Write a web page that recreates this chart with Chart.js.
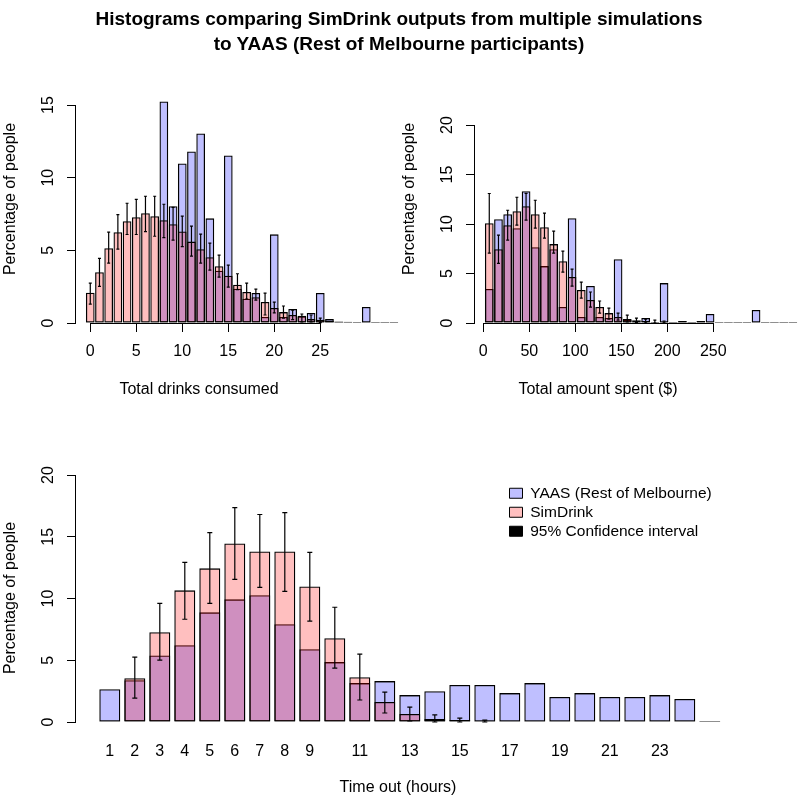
<!DOCTYPE html>
<html>
<head>
<meta charset="utf-8">
<script src="https://cdn.jsdelivr.net/npm/chart.js@4.4.1/dist/chart.umd.min.js"></script>
<style>
body { margin: 0; background: #fff; }
#wrap { position: relative; width: 798px; height: 798px; overflow: hidden; }
canvas { position: absolute; }
#title {
  position: absolute; left: 0; top: 6px; width: 798px; text-align: center;
  font: bold 19px "Liberation Sans", Arial, sans-serif; line-height: 25px; color: #000;
}
</style>
</head>
<body>
<div id="wrap">
  <canvas id="drinks" style="left:0;top:0" width="399" height="400"></canvas>
  <canvas id="spent" style="left:399px;top:0" width="399" height="400"></canvas>
  <canvas id="hours" style="left:0;top:400px" width="798" height="398"></canvas>
  <div id="title">Histograms comparing SimDrink outputs from multiple simulations<br>to YAAS (Rest of Melbourne participants)</div>
</div>
<script>
Chart.defaults.font.family = '"Liberation Sans", Arial, sans-serif';
Chart.defaults.font.size = 16;
Chart.defaults.color = '#000';

var blueFill = 'rgba(0,0,255,0.25)';
var redFill = 'rgba(255,0,0,0.25)';

// total drinks consumed (one bar per drink count)
var drinkBins = [0,1,2,3,4,5,6,7,8,9,10,11,12,13,14,15,16,17,18,19,20,21,22,23,24,25,26,27,28,29,30,31,32,33];
var drinkTicks = [0,5,10,15,20,25];
var drinksYaas = [0,0,0,0,0,0,0,0,15.24,8.03,10.98,11.8,13.04,7.2,3.6,11.53,2.36,1.67,2.06,0.41,6.1,0.41,0.96,0.45,0.69,2.06,0.27,0,0,0,1.1,0,0,0];
var drinksSim = [2.08,3.5,5.15,6.25,7.0,7.28,7.55,7.35,7.07,6.8,6.3,5.6,5.08,4.53,3.9,3.25,2.63,2.13,1.78,1.44,1.03,0.75,0.55,0.5,0.27,0.23,0.16,0.1,0.08,0.06,0,0,0,0];
var drinksLow = [1.3,2.52,4.12,5.08,6.09,6.09,6.29,5.97,5.88,5.7,5.26,4.6,4.12,3.64,3.16,2.47,2.29,1.65,1.58,0.55,0.69,0.34,0.23,0.07,0.07,0.02,null,null,null,null,null,null,null,null];
var drinksHigh = [2.75,4.44,6.25,7.46,8.24,8.51,8.72,8.72,8.17,7.96,7.35,6.66,6.11,5.49,4.67,3.98,3.39,2.75,2.33,2.06,1.44,1.17,0.89,0.62,0.55,0.34,null,null,null,null,null,null,null,null];

// total amount spent ($10 bins)
var spentBins = [0,10,20,30,40,50,60,70,80,90,100,110,120,130,140,150,160,170,180,190,200,210,220,230,240,250,260,270,280,290,300,310,320,330];
var spentTicks = [0,50,100,150,200,250];
var spentYaas = [3.43,10.49,10.99,9.58,13.31,7.66,5.75,7.46,1.61,10.59,0.6,3.73,0.6,0.5,6.45,0.34,0,0.5,0.05,4.03,0,0.2,0,0.2,0.91,0,0,0,0,1.31,0,0,0,0];
var spentSim = [10.08,7.46,9.88,11.29,11.8,10.99,9.68,7.97,6.25,4.64,3.33,2.32,1.61,1.0,0.6,0.4,0.27,0.2,0.1,0.1,0.05,0,0,0,0,0,0,0,0,0,0,0,0,0];
var spentLow = [7.06,6.02,8.37,9.88,10.39,9.58,8.57,7.06,5.14,3.73,2.52,1.61,1.0,0.4,0.3,0.1,0.05,0.02,0,0.02,null,null,null,null,null,null,null,null,null,null,null,null,null,null];
var spentHigh = [13.08,8.87,11.39,12.7,13.1,12.4,11.09,9.28,7.26,5.45,4.13,3.13,2.22,1.51,1.0,0.8,0.5,0.4,0.3,0.2,null,null,null,null,null,null,null,null,null,null,null,null,null,null];

// time out (hours)
var hours = [1,2,3,4,5,6,7,8,9,10,11,12,13,14,15,16,17,18,19,20,21,22,23,24,25];
var hourTicks = [1,2,3,4,5,6,7,8,9,11,13,15,17,19,21,23];
var hoursYaas = [2.66,3.39,5.38,6.22,8.88,9.93,10.26,7.91,5.9,4.85,3.15,3.31,2.18,2.5,2.99,2.99,2.34,3.15,2.02,2.34,2.02,2.02,2.18,1.86,0];
var hoursSim = [0,3.55,7.27,10.66,12.44,14.45,13.81,13.81,10.98,6.78,3.63,1.62,0.65,0.24,0.16,0.08,0.05,0,0.05,0,0,0,0,0,0];
var hoursLow = [null,1.94,5.01,8.32,9.61,11.55,10.9,10.58,8.16,4.36,1.78,0.73,0.08,0,0,0,null,null,null,null,null,null,null,null,null];
var hoursHigh = [null,5.25,9.61,12.92,15.34,17.36,16.8,16.96,13.73,9.29,5.49,2.42,1.21,0.57,0.32,0.15,null,null,null,null,null,null,null,null,null];

function pts(xs, ys) {
  return xs.map(function(x, i) { return { x: x, y: ys[i] }; });
}

// R style extras: error bars, x axis line between end ticks, axis titles, legend placement
var rAxes = {
  id: 'rAxes',
  afterLayout: function(chart, args, opts) {
    if (opts.legendAt) {
      chart.legend.left = opts.legendAt[0];
      chart.legend.top = opts.legendAt[1];
    }
  },
  afterDatasetsDraw: function(chart, args, opts) {
    var ctx = chart.ctx, xs = chart.scales.x, ys = chart.scales.y;
    ctx.save();
    ctx.strokeStyle = '#000';
    ctx.lineWidth = 1.2;
    var e = opts.errors;
    e.low.forEach(function(lo, i) {
      var hi = e.high[i];
      if (lo === null || hi === null) return;
      var x = xs.getPixelForValue(e.at[i]);
      var y1 = ys.getPixelForValue(lo), y2 = ys.getPixelForValue(hi);
      ctx.beginPath();
      ctx.moveTo(x, y1); ctx.lineTo(x, y2);
      ctx.moveTo(x - e.cap, y1); ctx.lineTo(x + e.cap, y1);
      ctx.moveTo(x - e.cap, y2); ctx.lineTo(x + e.cap, y2);
      ctx.stroke();
    });
    if (opts.xLine) {
      var t = xs.ticks;
      var y0 = Math.round(chart.chartArea.bottom) + 0.5;
      ctx.lineWidth = 1;
      ctx.beginPath();
      ctx.moveTo(xs.getPixelForValue(t[0].value), y0);
      ctx.lineTo(xs.getPixelForValue(t[t.length - 1].value), y0);
      ctx.stroke();
    }
    ctx.restore();
  },
  afterDraw: function(chart, args, opts) {
    var ctx = chart.ctx;
    ctx.save();
    ctx.fillStyle = '#000';
    ctx.font = '16px "Liberation Sans", Arial, sans-serif';
    ctx.textAlign = 'center';
    ctx.textBaseline = 'middle';
    opts.titles.forEach(function(t) {
      ctx.save();
      ctx.translate(t.x, t.y);
      if (t.rot) ctx.rotate(-Math.PI / 2);
      ctx.fillText(t.text, 0, 0);
      ctx.restore();
    });
    ctx.restore();
  }
};

function histChart(id, o) {
  var bar = { grouped: false, borderColor: '#000', borderWidth: 1.3, borderSkipped: false,
              categoryPercentage: 1, barPercentage: o.barPct, minBarLength: 1, clip: false };
  return new Chart(document.getElementById(id), {
    type: 'bar',
    data: {
      datasets: [
        Object.assign({ label: 'SimDrink', data: pts(o.at, o.sim), backgroundColor: redFill, order: 0 }, bar),
        Object.assign({ label: 'YAAS (Rest of Melbourne)', data: pts(o.at, o.yaas), backgroundColor: blueFill, order: 1 }, bar)
      ]
    },
    options: {
      responsive: false,
      animation: false,
      layout: { padding: o.pad },
      scales: {
        x: {
          type: 'linear', min: o.xMin, max: o.xMax, offset: false,
          afterFit: function(s) { s.height = o.xHeight; },
          afterBuildTicks: function(s) { s.ticks = o.ticks.map(function(v) { return { value: v }; }); },
          ticks: { autoSkip: false, maxRotation: 0, padding: o.xPad, font: { size: 16 } },
          grid: o.xTicks ? { offset: false, drawOnChartArea: false, tickLength: 9, color: '#000' } : { display: false, drawTicks: false },
          border: { display: false }
        },
        y: {
          min: 0, max: o.yMax,
          afterFit: function(s) { s.width = 75; },
          ticks: { stepSize: 5, minRotation: 90, maxRotation: 90, crossAlign: 'center', padding: 10, font: { size: 16 } },
          grid: { drawOnChartArea: false, tickLength: 8, color: '#000' },
          border: { display: true, color: '#000', width: 1 }
        }
      },
      plugins: {
        tooltip: { enabled: false },
        legend: o.legend || { display: false },
        rAxes: { errors: o.errors, xLine: o.xTicks, titles: o.titles, legendAt: o.legendAt }
      }
    },
    plugins: [rAxes]
  });
}

histChart('drinks', {
  at: drinkBins, yaas: drinksYaas, sim: drinksSim, ticks: drinkTicks,
  pad: { left: 0, top: 105, right: 1, bottom: 0 },
  xMin: -1.66, xMax: 33.45, xHeight: 77, xPad: 10, xTicks: true, yMax: 15, barPct: 0.95,
  errors: { at: drinkBins, low: drinksLow, high: drinksHigh, cap: 1.5 },
  titles: [{ text: 'Total drinks consumed', x: 199, y: 390 }, { text: 'Percentage of people', x: 11, y: 199, rot: true }]
});

histChart('spent', {
  at: spentBins.map(function(b) { return b + 6.5; }), yaas: spentYaas, sim: spentSim, ticks: spentTicks,
  pad: { left: 0, top: 125, right: 0, bottom: 0 },
  xMin: -10.1, xMax: 342.1, xHeight: 77, xPad: 10, xTicks: true, yMax: 20, barPct: 0.95,
  errors: { at: spentBins.map(function(b) { return b + 6.5; }), low: spentLow, high: spentHigh, cap: 1.5 },
  titles: [{ text: 'Total amount spent ($)', x: 199, y: 390 }, { text: 'Percentage of people', x: 11, y: 199, rot: true }]
});

histChart('hours', {
  at: hours, yaas: hoursYaas, sim: hoursSim, ticks: hourTicks,
  pad: { left: 0, top: 75, right: 48, bottom: 0 },
  xMin: -0.392, xMax: 26.608, xHeight: 76, xPad: 20, xTicks: false, yMax: 20, barPct: 0.84,
  errors: { at: hours, low: hoursLow, high: hoursHigh, cap: 2.5 },
  titles: [{ text: 'Time out (hours)', x: 398, y: 388 }, { text: 'Percentage of people', x: 11, y: 198, rot: true }],
  legendAt: [506, 82],
  legend: {
    display: true, position: 'chartArea', align: 'start',
    labels: {
      boxWidth: 13, boxHeight: 10, padding: 3.5, font: { size: 15.5 },
      generateLabels: function() {
        return [
          { text: 'YAAS (Rest of Melbourne)', fillStyle: blueFill, strokeStyle: '#000', lineWidth: 1, hidden: false },
          { text: 'SimDrink', fillStyle: redFill, strokeStyle: '#000', lineWidth: 1, hidden: false },
          { text: '95% Confidence interval', fillStyle: '#000', strokeStyle: '#000', lineWidth: 1, hidden: false }
        ];
      }
    }
  }
});
</script>
</body>
</html>
